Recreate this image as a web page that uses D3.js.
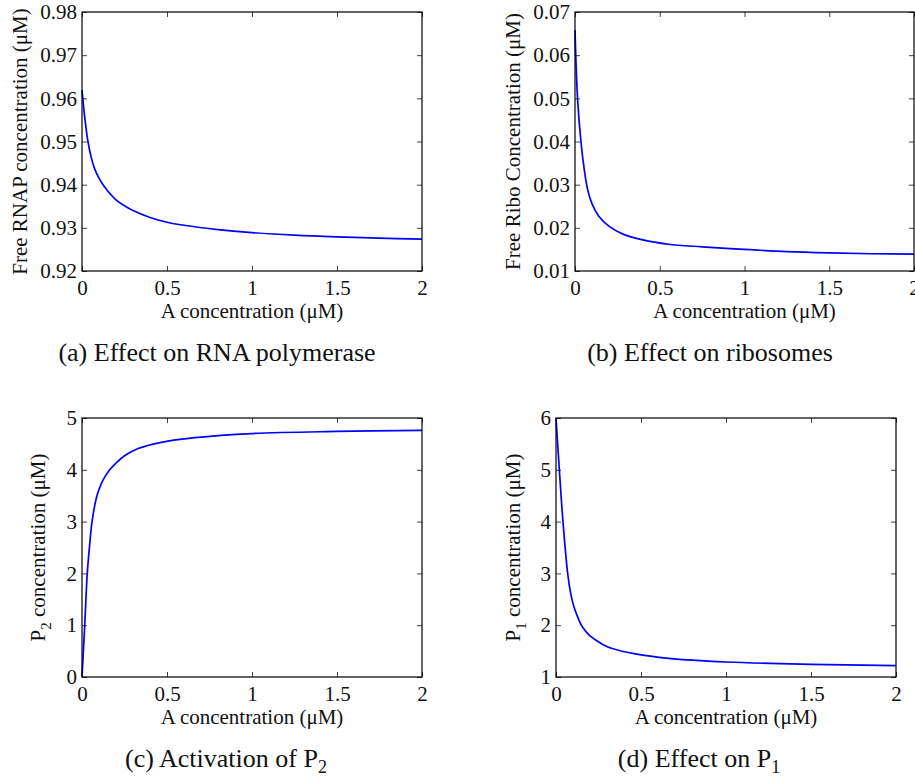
<!DOCTYPE html>
<html>
<head>
  <meta charset="utf-8" />
  <title>Effect of A concentration</title>
  <style>
    body { margin: 0; background: #fff; }
    text { font-family: "Liberation Serif", "Times New Roman", serif; fill: #111; }
  </style>
</head>
<body>
  <svg id="chart" width="915" height="778"></svg>

  <script src="https://cdn.jsdelivr.net/npm/d3@7"></script>

  <script>
    // shared x ticks
    var xTicks = [0, 0.5, 1, 1.5, 2]

    // (a) free RNAP
    var rnapX = [0, 0.01, 0.02, 0.035, 0.055, 0.075, 0.1, 0.125, 0.15, 0.2, 0.25, 0.3, 0.4, 0.5, 0.6, 0.8, 1.0, 1.25, 1.5, 1.75, 2.0]
    var rnapY = [0.9619, 0.9578, 0.9543, 0.9500, 0.9462, 0.9436, 0.9415, 0.9399, 0.9386, 0.9365, 0.9351, 0.9340, 0.9324, 0.9313, 0.9306, 0.9296, 0.9289, 0.9283, 0.9279, 0.9276, 0.9274]
    var rnapTicks = [0.92, 0.93, 0.94, 0.95, 0.96, 0.97, 0.98]

    // (b) free ribosomes
    var riboX = [0, 0.015, 0.035, 0.055, 0.075, 0.1, 0.14, 0.2, 0.28, 0.4, 0.55, 0.75, 1.0, 1.25, 1.5, 1.75, 2.0]
    var riboY = [0.0658, 0.0500, 0.0400, 0.0334, 0.0288, 0.0256, 0.0227, 0.0204, 0.0186, 0.0172, 0.0162, 0.0156, 0.0150, 0.0145, 0.0142, 0.0140, 0.0139]
    var riboTicks = [0.01, 0.02, 0.03, 0.04, 0.05, 0.06, 0.07]

    // (c) P2
    var p2X = [0, 0.016, 0.031, 0.045, 0.059, 0.084, 0.1, 0.125, 0.163, 0.2, 0.25, 0.33, 0.467, 0.663, 1.0, 1.5, 2.0]
    var p2Y = [0, 1.0, 2.0, 2.55, 3.0, 3.45, 3.62, 3.81, 4.0, 4.13, 4.27, 4.41, 4.53, 4.62, 4.70, 4.74, 4.76]
    var p2Ticks = [0, 1, 2, 3, 4, 5]

    // (d) P1
    var p1X = [0, 0.0196, 0.041, 0.0686, 0.085, 0.104, 0.125, 0.149, 0.1725, 0.2, 0.231, 0.28, 0.33, 0.467, 0.663, 1.0, 1.5, 2.0]
    var p1Y = [6, 5, 4, 3, 2.64, 2.37, 2.18, 2.0, 1.89, 1.795, 1.72, 1.62, 1.55, 1.445, 1.36, 1.29, 1.245, 1.22]
    var p1Ticks = [1, 2, 3, 4, 5, 6]

    var panels = [
      { xs: rnapX, ys: rnapY, yTicks: rnapTicks, fmt: '.2f', left: 82, right: 422, top: 12, bottom: 271,
        ylab: ['Free RNAP concentration (\u03bcM)'], yoff: 55, cap: ['(a) Effect on RNA polymerase'], capX: 217 },
      { xs: riboX, ys: riboY, yTicks: riboTicks, fmt: '.2f', left: 575, right: 914, top: 12, bottom: 271,
        ylab: ['Free Ribo Concentration (\u03bcM)'], yoff: 55, cap: ['(b) Effect on ribosomes'], capX: 710 },
      { xs: p2X, ys: p2Y, yTicks: p2Ticks, fmt: 'd', left: 82, right: 422, top: 418, bottom: 677,
        ylab: ['P', '2', ' concentration (\u03bcM)'], yoff: 37, cap: ['(c) Activation of P', '2'], capX: 226 },
      { xs: p1X, ys: p1Y, yTicks: p1Ticks, fmt: 'd', left: 556, right: 896, top: 418, bottom: 677,
        ylab: ['P', '1', ' concentration (\u03bcM)'], yoff: 36, cap: ['(d) Effect on P', '1'], capX: 699 }
    ]

    var svg = d3.select('#chart')
    var xFmt = d3.format('~g')

    panels.forEach(function (p) {
      drawPanel(p)
    })

    // text with optional subscript pieces: [normal, sub, normal, ...]
    function addPieces(textSel, pieces, subSize) {
      pieces.forEach(function (s, i) {
        var t = textSel.append('tspan').text(s)
        if (i % 2 == 1) {
          t.attr('font-size', subSize).attr('dy', 6)
        } else if (i > 0) {
          t.attr('dy', -6)
        }
      })
    }

    function drawPanel(p) {
      var x = d3.scaleLinear().domain([0, 2]).range([p.left, p.right])
      var y = d3.scaleLinear().domain([p.yTicks[0], p.yTicks[p.yTicks.length - 1]]).range([p.bottom, p.top])
      var g = svg.append('g')

      var axes = [
        { ax: d3.axisBottom(x).tickValues(xTicks).tickFormat(xFmt).tickPadding(9), tr: 'translate(0,' + p.bottom + ')' },
        { ax: d3.axisTop(x).tickValues(xTicks).tickFormat(''), tr: 'translate(0,' + p.top + ')' },
        { ax: d3.axisLeft(y).tickValues(p.yTicks).tickFormat(d3.format(p.fmt)).tickPadding(5), tr: 'translate(' + p.left + ',0)' },
        { ax: d3.axisRight(y).tickValues(p.yTicks).tickFormat(''), tr: 'translate(' + p.right + ',0)' }
      ]
      axes.forEach(function (a) {
        var ag = g.append('g').attr('transform', a.tr)
          .call(a.ax.tickSizeInner(-5).tickSizeOuter(0))
        ag.select('.domain').remove()
        ag.selectAll('.tick line').attr('stroke', '#444')
        ag.selectAll('.tick text')
          .attr('font-family', '"Liberation Serif", serif')
          .attr('font-size', 21)
          .attr('fill', '#111')
      })

      // the curve
      var line = d3.line()
        .x(function (d) { return x(d[0]) })
        .y(function (d) { return y(d[1]) })
        .curve(d3.curveCatmullRom.alpha(0.5))
      g.append('path')
        .datum(p.xs.map(function (v, i) { return [v, p.ys[i]] }))
        .attr('d', line)
        .attr('fill', 'none')
        .attr('stroke', '#0000ff')
        .attr('stroke-width', 1.7)

      // frame
      g.append('rect')
        .attr('x', p.left).attr('y', p.top)
        .attr('width', p.right - p.left).attr('height', p.bottom - p.top)
        .attr('fill', 'none').attr('stroke', '#000').attr('stroke-width', 1.2)

      // axis titles
      g.append('text')
        .attr('x', (p.left + p.right) / 2).attr('y', p.bottom + 47)
        .attr('text-anchor', 'middle').attr('font-size', 21)
        .text('A concentration (\u03bcM)')

      var yl = g.append('text')
        .attr('transform', 'translate(' + (p.left - p.yoff) + ',' + (p.top + p.bottom) / 2 + ') rotate(-90)')
        .attr('text-anchor', 'middle').attr('font-size', 21)
      addPieces(yl, p.ylab, 15)

      // caption
      var cap = g.append('text')
        .attr('x', p.capX).attr('y', p.bottom + 90)
        .attr('text-anchor', 'middle').attr('font-size', 26)
        .attr('fill', '#222')
      addPieces(cap, p.cap, 18)
    }
  </script>
</body>
</html>
